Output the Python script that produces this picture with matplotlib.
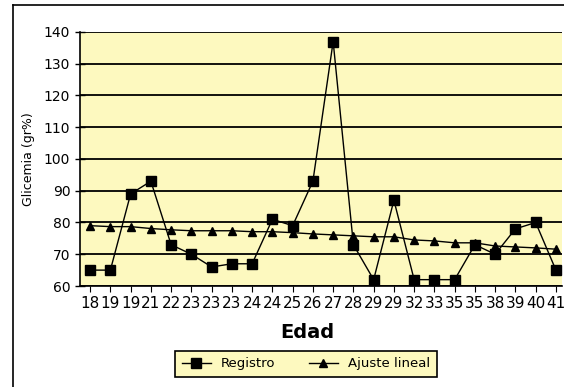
import matplotlib.pyplot as plt
from matplotlib.lines import Line2D

# Data
edades = ['18', '19', '19', '21', '22', '23', '23', '23', '24', '24', '25', '26',
          '27', '28', '29', '29', '32', '33', '35', '35', '38', '39', '40', '41']
registro = [65, 65, 89, 93, 73, 70, 66, 67, 67, 81, 79, 93,
            137, 73, 62, 87, 62, 62, 62, 73, 70, 78, 80, 65]
ajuste = [79.0, 78.7, 78.7, 78.1, 77.7, 77.4, 77.4, 77.4, 77.1, 77.1, 76.8, 76.4,
          76.1, 75.8, 75.5, 75.5, 74.5, 74.2, 73.6, 73.6, 72.6, 72.3, 72.0, 71.6]

amarillo = '#fdf9bf'

fig = plt.figure(figsize=(5.64, 3.87), dpi=100)
fig.patch.set_facecolor('white')

# outer frame: only its top and left edges show
x0, y0 = 13 / 564, 1 - 5 / 387
fig.add_artist(Line2D([x0, 1], [y0, y0], transform=fig.transFigure,
                      color='black', linewidth=1.2))
fig.add_artist(Line2D([x0, x0], [0, y0], transform=fig.transFigure,
                      color='black', linewidth=1.2))

ax = fig.add_axes([80 / 564, (387 - 286) / 387, 482 / 564, 254 / 387])
ax.set_facecolor(amarillo)

x = list(range(len(edades)))
ax.plot(x, registro, color='black', linewidth=1, marker='s', markersize=6.5,
        label='Registro')
ax.plot(x, ajuste, color='black', linewidth=1, marker='^', markersize=6,
        label='Ajuste lineal')

ax.set_ylim(60, 140)
ax.set_yticks(range(60, 141, 10))
ax.set_xlim(-0.5, 23.3)
ax.set_xticks(x)
ax.set_xticklabels(edades, fontsize=11)
ax.tick_params(axis='y', labelsize=10, direction='inout', length=7, width=1)
ax.tick_params(axis='x', direction='out', length=4, width=0.8, pad=3)
ax.yaxis.grid(True, color='black', linewidth=1.3)
ax.set_axisbelow(True)

for s in ['top', 'right']:
    ax.spines[s].set_visible(False)
ax.spines['left'].set_linewidth(1.2)
ax.spines['bottom'].set_linewidth(1.2)

ax.set_ylabel('Glicemia (gr%)', fontsize=9, labelpad=6)

fig.text(307 / 564, 1 - 332 / 387, 'Edad', ha='center', va='center',
         fontsize=14, fontweight='bold')

leg = fig.legend(loc='center', bbox_to_anchor=(306 / 564, 1 - 364 / 387),
                 ncol=2, fontsize=9.5, frameon=True, fancybox=False,
                 facecolor=amarillo, edgecolor='black', framealpha=1,
                 handlelength=2.2, columnspacing=2.5, borderpad=0.5)
leg.get_frame().set_linewidth(1.2)

fig.savefig('out.png', dpi=100)
